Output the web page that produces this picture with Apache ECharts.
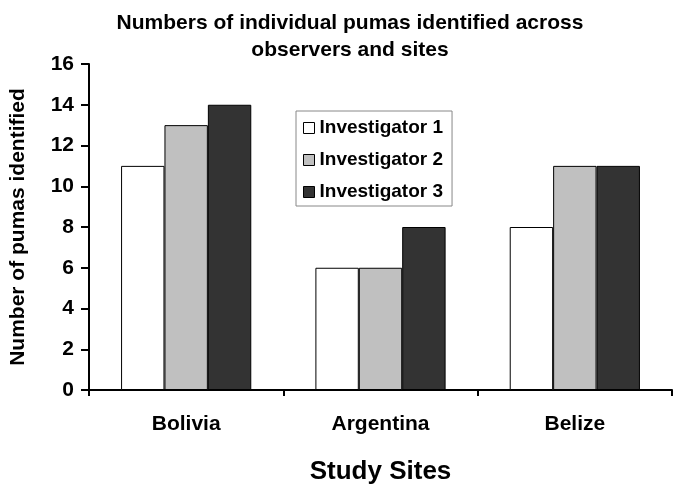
<!DOCTYPE html>
<html>
<head>
<meta charset="utf-8">
<script src="https://cdn.jsdelivr.net/npm/echarts@6/dist/echarts.min.js"></script>
<style>
  html, body { margin: 0; padding: 0; background: #fff; }
  #chart { width: 673px; height: 490px; }
</style>
</head>
<body>
<div id="chart"></div>
<script>
const sites = ['Bolivia', 'Argentina', 'Belize'];
const investigator1 = [11, 6, 8];
const investigator2 = [13, 6, 11];
const investigator3 = [14, 8, 11];
const yTicks = [0, 2, 4, 6, 8, 10, 12, 14, 16];

const font = "'Liberation Sans', Arial, sans-serif";
const barStyle = (color) => ({ color: color, borderColor: '#000', borderWidth: 1 });

const chart = echarts.init(document.getElementById('chart'));
chart.setOption({
  animation: false,
  backgroundColor: '#fff',
  title: {
    text: 'Numbers of individual pumas identified across\nobservers and sites',
    left: 345, top: 5, textAlign: 'center',
    textStyle: { fontFamily: font, fontSize: 21, fontWeight: 'bold', color: '#000', lineHeight: 27 }
  },
  legend: {
    orient: 'vertical', left: 296, top: 111,
    borderColor: '#888', borderWidth: 1,
    padding: [7, 9, 4, 7],
    itemWidth: 11, itemHeight: 11, itemGap: 12,
    icon: 'rect',
    itemStyle: { borderColor: '#000', borderWidth: 1 },
    textStyle: { fontFamily: font, fontSize: 19, fontWeight: 'bold', color: '#000', lineHeight: 20 },
    data: ['Investigator 1', 'Investigator 2', 'Investigator 3']
  },
  grid: { left: 77, right: 1, top: 64, bottom: 87, containLabel: false },
  xAxis: {
    type: 'category', data: sites,
    name: 'Study Sites', nameLocation: 'middle', nameGap: 69,
    nameTextStyle: { fontFamily: font, fontSize: 26, fontWeight: 'bold', color: '#000' },
    axisLine: { lineStyle: { color: '#000', width: 2 } },
    axisTick: { show: true, length: 6, lineStyle: { color: '#000', width: 2 } },
    axisLabel: { margin: 24, fontFamily: font, fontSize: 21, fontWeight: 'bold', color: '#000' }
  },
  yAxis: {
    type: 'value', min: yTicks[0], max: yTicks[yTicks.length - 1], interval: 2,
    name: 'Number of pumas identified', nameLocation: 'middle', nameGap: 60, nameRotate: 90,
    nameTextStyle: { fontFamily: font, fontSize: 21, fontWeight: 'bold', color: '#000' },
    axisLine: { show: true, lineStyle: { color: '#000', width: 2 } },
    axisTick: { show: true, length: 8, lineStyle: { color: '#000', width: 2 } },
    axisLabel: { margin: 15, fontFamily: font, fontSize: 21, fontWeight: 'bold', color: '#000' },
    splitLine: { show: false }
  },
  series: [
    { name: 'Investigator 1', type: 'bar', data: investigator1, barGap: '0%', barCategoryGap: '33%', itemStyle: barStyle('#ffffff') },
    { name: 'Investigator 2', type: 'bar', data: investigator2, barGap: '0%', barCategoryGap: '33%', itemStyle: barStyle('#c0c0c0') },
    { name: 'Investigator 3', type: 'bar', data: investigator3, barGap: '0%', barCategoryGap: '33%', itemStyle: barStyle('#333333') }
  ]
});
</script>
</body>
</html>
